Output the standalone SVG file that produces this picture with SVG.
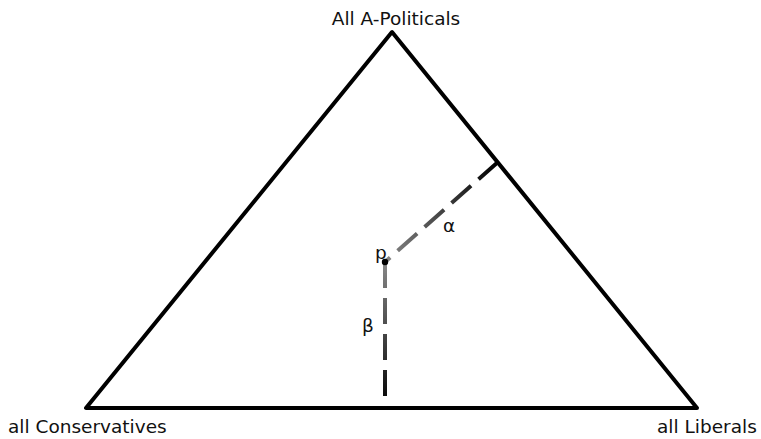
<svg xmlns="http://www.w3.org/2000/svg" width="761" height="439" viewBox="0 0 761 439">
<style>
text{font-family:"DejaVu Sans",sans-serif;font-size:18.5px;fill:#111}
.dash{fill:none;stroke-width:4;stroke-dasharray:26 10}
</style>
<defs>
<linearGradient id="ga" gradientUnits="userSpaceOnUse" x1="385" y1="262" x2="497" y2="163">
<stop offset="0" stop-color="#888"/><stop offset="1" stop-color="#000"/>
</linearGradient>
<linearGradient id="gb" gradientUnits="userSpaceOnUse" x1="385" y1="262" x2="385" y2="408">
<stop offset="0" stop-color="#888"/><stop offset="1" stop-color="#000"/>
</linearGradient>
</defs>
<rect width="761" height="439" fill="#fff"/>
<g id="triangle">
<polygon points="392,32 86,408 697,408" fill="none" stroke="#000" stroke-width="4" stroke-linejoin="round"/>
</g>
<g id="connectors">
<line class="dash" x1="498" y1="162" x2="385" y2="262" stroke="url(#ga)"/>
<line class="dash" x1="385" y1="262" x2="385" y2="408" stroke="url(#gb)" stroke-dasharray="18 10 27 10 28 7 46"/>
</g>
<g id="point-p">
<circle cx="385" cy="262" r="3.2" fill="#000"/>
<text x="375" y="259">p</text>
</g>
<g id="labels">
<text x="396" y="25" text-anchor="middle">All A-Politicals</text>
<text x="8" y="433">all Conservatives</text>
<text x="657" y="433">all Liberals</text>
<text x="443" y="232">α</text>
<text x="362" y="332">β</text>
</g>
</svg>
